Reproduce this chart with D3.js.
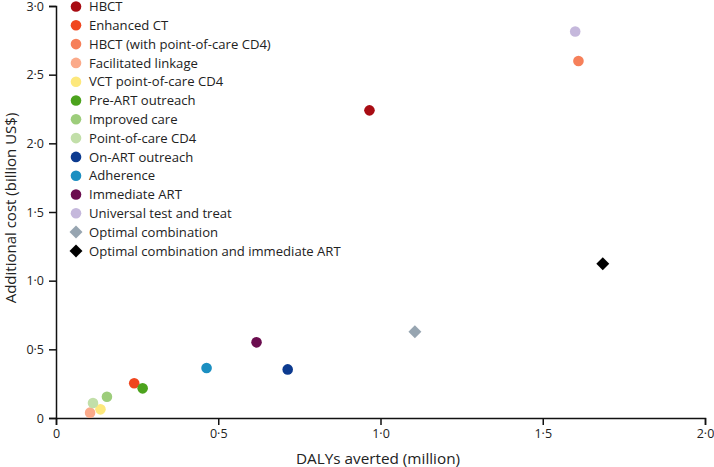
<!DOCTYPE html>
<html><head><meta charset="utf-8">
<script src="https://cdn.jsdelivr.net/npm/d3@7"></script>
<style>body{margin:0;background:#fff}svg{display:block;font-family:"Open Sans",sans-serif}</style>
</head><body><svg id="c" width="714" height="467"></svg>
<script>
const names = ["HBCT","Enhanced CT","HBCT (with point-of-care CD4)","Facilitated linkage","VCT point-of-care CD4","Pre-ART outreach","Improved care","Point-of-care CD4","On-ART outreach","Adherence","Immediate ART","Universal test and treat","Optimal combination","Optimal combination and immediate ART"];
const dalys = [0.966,0.241,1.610,0.105,0.137,0.267,0.157,0.114,0.714,0.464,0.618,1.600,1.106,1.685];
const costs = [2.24,0.253,2.60,0.039,0.063,0.216,0.155,0.109,0.354,0.364,0.551,2.814,0.628,1.123];
const colors = ["#a80c13","#f0461e","#f6805a","#fbaa8a","#fde87c","#4ca31d","#9dcd7b","#c2dfa9","#0c3a8f","#1b8fc1","#6b0d4f","#c5b8dc","#97a5b1","#000000"];
const shapes = ["circle","circle","circle","circle","circle","circle","circle","circle","circle","circle","circle","circle","diamond","diamond"];
const xTicks = [0,0.5,1.0,1.5,2.0];
const yTicks = [0,0.5,1.0,1.5,2.0,2.5,3.0];
const fmt = v => v===0 ? "0" : v.toFixed(1).replace(".","\u00B7");

const svg = d3.select("#c");
const x = d3.scaleLinear().domain([0,2]).range([56,705]);
const y = d3.scaleLinear().domain([0,3]).range([418,6]);

const xAxis = svg.append("g").attr("transform","translate(0,418)")
  .call(d3.axisBottom(x).tickValues(xTicks).tickFormat(fmt).tickSizeOuter(0).tickSize(7).tickPadding(4));
const yAxis = svg.append("g").attr("transform","translate(56,0)")
  .call(d3.axisLeft(y).tickValues(yTicks).tickFormat(fmt).tickSizeOuter(0).tickSize(7).tickPadding(5));
[xAxis,yAxis].forEach(a=>{
  a.select(".domain").attr("stroke","#111").attr("stroke-width",1.5);
  a.selectAll(".tick line").attr("stroke","#111").attr("stroke-width",1.5);
  a.selectAll(".tick text").attr("font-family","'Open Sans',sans-serif").attr("font-size",12.5).attr("fill","#222");
});

svg.append("text").attr("x",378).attr("y",464).attr("text-anchor","middle")
  .attr("font-size",15.3).attr("fill","#222").text("DALYs averted (million)");
svg.append("text").attr("transform","translate(16,208) rotate(-90)").attr("text-anchor","middle")
  .attr("font-size",15).attr("fill","#222").text("Additional cost (billion US$)");

const data = names.map((n,i)=>({n,x:dalys[i],y:costs[i],c:colors[i],s:shapes[i]}));
function draw(g,d,cx,cy){
  if(d.s==="circle") g.append("circle").attr("cx",cx).attr("cy",cy).attr("r",5.3).attr("fill",d.c);
  else g.append("path").attr("d",d3.symbol(d3.symbolSquare, 84)()).attr("transform",`translate(${cx},${cy}) rotate(45)`).attr("fill",d.c);
}
const pts = svg.append("g");
data.forEach(d=>draw(pts,d,x(d.x),y(d.y)));

const leg = svg.append("g");
data.forEach((d,i)=>{
  const cy = 6.5 + i*18.8;
  draw(leg,d,76,cy);
  leg.append("text").attr("x",89).attr("y",cy).attr("dy","0.36em").attr("font-size",13.1).attr("fill","#222").text(d.n);
});
</script></body></html>
